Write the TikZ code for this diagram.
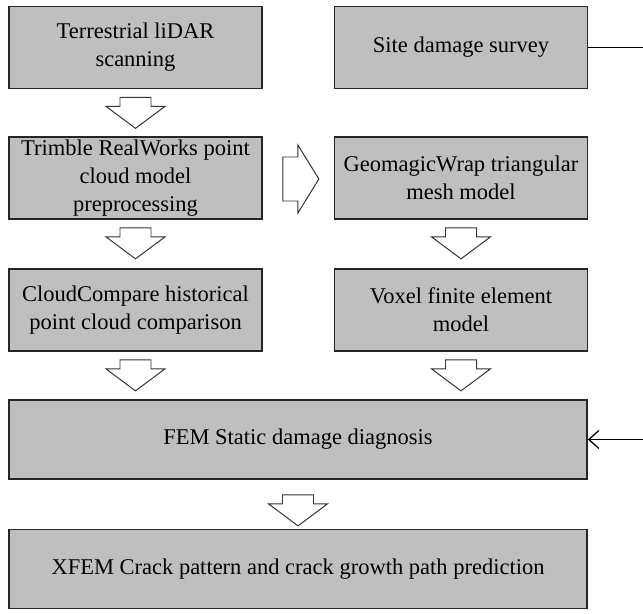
\documentclass[tikz,border=0pt]{standalone}
\usepackage{fontspec}
\setmainfont{Liberation Serif}
\usetikzlibrary{calc,arrows.meta}

\tikzset{
  stage/.style={draw=black!85, line width=1.2pt, fill=black!25, inner sep=0pt, align=center,
                minimum width=6.325cm, minimum height=2.05cm, font=\fontsize{16}{20}\selectfont},
  widestage/.style={stage, minimum width=14.45cm, minimum height=1.975cm},
  hollow/.style={draw=black!80, line width=0.7pt, fill=white, line join=miter},
  downarrow/.pic={\draw[hollow] (-15.5,0) -- (15.5,0) -- (15.5,9) -- (29.5,9) -- (0,31) -- (-29.5,9) -- (-15.5,9) -- cycle;},
  rightarrow/.pic={\draw[hollow] (0,-22) -- (15,-22) -- (15,-34) -- (36,0) -- (15,34) -- (15,22) -- (0,22) -- cycle;}
}

\begin{document}
\begin{tikzpicture}[x=0.025cm, y=-0.025cm]
    \useasboundingbox (0,0) rectangle (643,613);

    % left column
    \node[stage] (lidar)   at (135.5,47.5) {Terrestrial liDAR\\scanning};
    \node[stage] (trimble) at (135.5,178)  {Trimble RealWorks point\\cloud model\\preprocessing};
    \node[stage] (compare) at (135.5,310)  {CloudCompare historical\\point cloud comparison};

    % right column
    \node[stage] (survey)  at (461,47.5) {Site damage survey};
    \node[stage] (mesh)    at (461,178)  {GeomagicWrap triangular\\mesh model};
    \node[stage] (voxel)   at (461,310)  {Voxel finite element\\model};

    % bottom
    \node[widestage] (fem)  at (298,439.5) {FEM Static damage diagnosis};
    \node[widestage] (xfem) at (298,569)   {XFEM Crack pattern and crack growth path prediction};

    % hollow arrows
    \pic at ($(lidar.south)+(0,8)$)   {downarrow};
    \pic at ($(trimble.south)+(0,8)$) {downarrow};
    \pic at ($(compare.south)+(0,8)$) {downarrow};
    \pic at ($(mesh.south)+(0,8)$)    {downarrow};
    \pic at ($(voxel.south)+(0,8)$)   {downarrow};
    \pic at ($(fem.south)+(0,15)$)    {downarrow};
    \pic at ($(trimble.east)+(20,1)$) {rightarrow};

    % survey feeds the diagnosis
    \coordinate (edge) at (644,0);
    \draw[line width=0.9pt, -{Straight Barb[length=0.25cm, width=0.45cm]}]
        (survey.east) -- (survey.east -| edge) |- (fem.east);
\end{tikzpicture}
\end{document}
